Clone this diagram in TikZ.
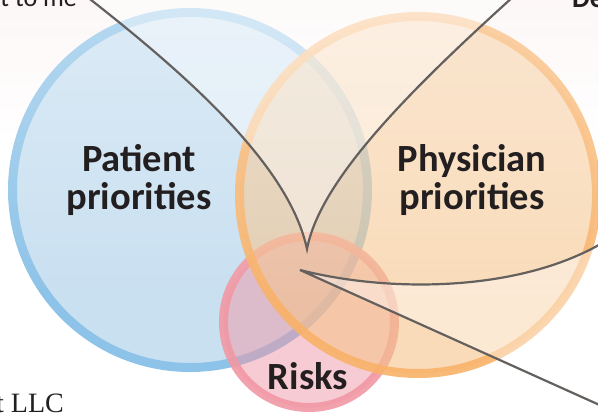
\documentclass[tikz,border=0pt]{standalone}
\usepackage{fontspec}
\setmainfont{Carlito}
\newfontfamily\llcfont{Liberation Serif}
\usetikzlibrary{fadings}

\definecolor{blueFill}{RGB}{201,224,241}
\definecolor{blueRing}{RGB}{141,195,232}
\definecolor{orangeFill}{RGB}{245,195,138}
\definecolor{orangeRing}{RGB}{249,178,104}
\definecolor{pinkFill}{RGB}{239,151,167}
\definecolor{pinkRing}{RGB}{241,152,164}
\definecolor{inkDark}{RGB}{35,31,32}
\definecolor{pointerGrey}{RGB}{100,96,94}
\definecolor{bandPink}{RGB}{252,239,239}

\tikzfading[name=topglow, top color=transparent!45, bottom color=transparent!100]

\begin{document}
\begin{tikzpicture}[x=1pt, y=-1pt,
  ring/.style={line width=9pt},
  label/.style={text=inkDark, font=\bfseries\fontsize{38.5}{37.5}\selectfont, align=center},
  edgetext/.style={text=inkDark, inner sep=0pt},
  pointer/.style={draw=pointerGrey, line width=2.2pt, fill=white, fill opacity=0.4}]

\useasboundingbox (0,0) rectangle (598,415);
\clip (0,0) rectangle (598,415);

% Background band at the top
\shade[top color=bandPink, bottom color=white] (0,-60) rectangle (598,140);

% Circles
\fill[blueFill] (190,190) circle (177.5);
\draw[ring, blueRing] (190,190) circle (177.5);

\fill[pinkFill, fill opacity=0.5] (309,322) circle (85.5);
\draw[ring, pinkRing, draw opacity=0.9] (309,322) circle (85.5);

\fill[orangeFill, fill opacity=0.6] (418,195) circle (178.5);
\draw[ring, orangeRing, draw opacity=0.9] (418,195) circle (178.5);

% Light overlay fading downwards
\fill[white, path fading=topglow] (0,-150) rectangle (598,300);

% Pointers
\coordinate (tipTop) at (307,249);
\coordinate (tipRisk) at (300,270);
\coordinate (topLeftEnd) at (86,-4);
\coordinate (topRightEnd) at (514,-4);
\coordinate (riskUpperEnd) at (604,242);
\coordinate (riskLowerEnd) at (604,407);

\draw[pointer] (topLeftEnd) .. controls (200,85) and (290,170) .. (tipTop)
  .. controls (320,180) and (410,90) .. (topRightEnd) -- cycle;
\draw[pointer] (riskUpperEnd) .. controls (520,292) and (390,293) .. (tipRisk)
  -- (riskLowerEnd) -- cycle;

% Labels
\node[label] (patient) at (139,180) {Patient\\priorities};
\node[label] (physician) at (472,180) {Physician\\priorities};
\node[label] (risks) at (308,376) {Risks};

% Texts cut by the edges
\node[edgetext, font=\fontsize{26}{30}\selectfont, anchor=base east] (mattersText) at (77,6) {t to me};
\node[edgetext, font=\bfseries\fontsize{28}{32}\selectfont, anchor=base west] (deText) at (572,8) {De};
\node[edgetext, font=\llcfont\fontsize{28}{32}\selectfont, anchor=base east] (llcText) at (64,412) {t LLC};

\end{tikzpicture}
\end{document}
